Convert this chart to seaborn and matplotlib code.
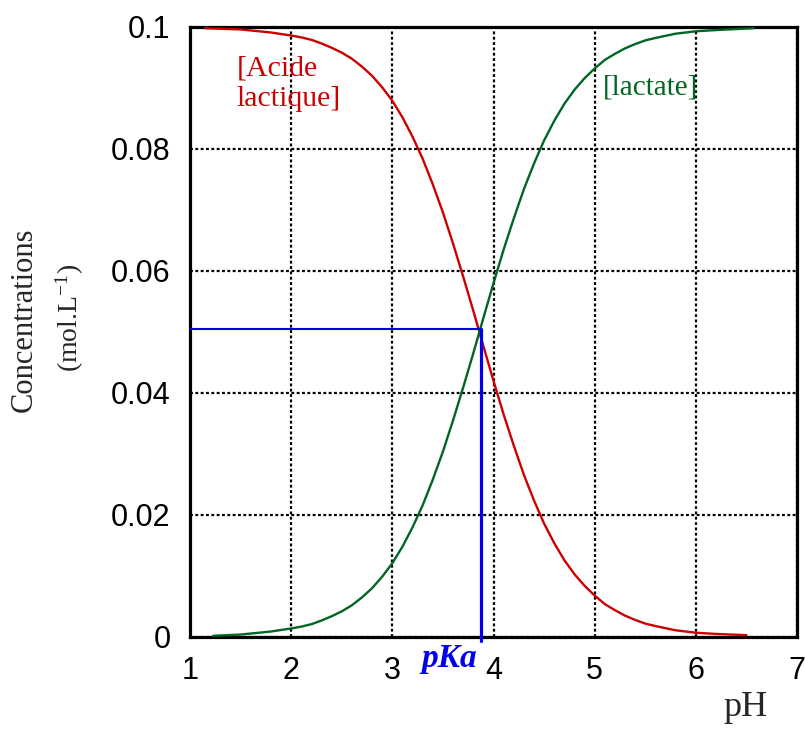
import matplotlib
matplotlib.use("Agg")
import matplotlib.pyplot as plt
import seaborn as sns
import pandas as pd

# Concentrations of lactic acid and lactate versus pH (mol/L)
ph_acide = [1.15, 1.5, 1.8, 2.0, 2.1, 2.2, 2.3, 2.4, 2.5, 2.6, 2.7, 2.8, 2.9,
            3.0, 3.1, 3.2, 3.3, 3.4, 3.5, 3.6, 3.7, 3.8, 3.9, 4.0, 4.1, 4.2,
            4.3, 4.4, 4.5, 4.6, 4.7, 4.8, 4.9, 5.0, 5.1, 5.2, 5.3, 5.4, 5.5,
            5.6, 5.8, 6.0, 6.2, 6.5]
acide = [0.0998, 0.0996, 0.0991, 0.0986, 0.0983, 0.0979, 0.0973, 0.0966,
         0.0958, 0.0948, 0.0935, 0.0920, 0.0901, 0.0879, 0.0852, 0.0820,
         0.0784, 0.0742, 0.0696, 0.0645, 0.0591, 0.0535, 0.0477, 0.0420,
         0.0365, 0.0314, 0.0266, 0.0224, 0.0186, 0.0154, 0.0126, 0.0103,
         0.0084, 0.0068, 0.0054, 0.0044, 0.0035, 0.0028, 0.0022, 0.0018,
         0.0011, 0.0007, 0.0005, 0.0003]
ph_lactate = [1.23, 1.5, 1.8, 2.0, 2.1, 2.2, 2.3, 2.4, 2.5, 2.6, 2.7, 2.8, 2.9,
              3.0, 3.1, 3.2, 3.3, 3.4, 3.5, 3.6, 3.7, 3.8, 3.9, 4.0, 4.1, 4.2,
              4.3, 4.4, 4.5, 4.6, 4.7, 4.8, 4.9, 5.0, 5.1, 5.2, 5.3, 5.4, 5.5,
              5.6, 5.8, 6.0, 6.2, 6.57]
lactate = [0.0002, 0.0004, 0.0009, 0.0014, 0.0017, 0.0021, 0.0027, 0.0034,
           0.0042, 0.0052, 0.0065, 0.0080, 0.0099, 0.0121, 0.0148, 0.0180,
           0.0216, 0.0258, 0.0304, 0.0355, 0.0409, 0.0465, 0.0523, 0.0580,
           0.0635, 0.0686, 0.0734, 0.0776, 0.0814, 0.0846, 0.0874, 0.0897,
           0.0916, 0.0932, 0.0946, 0.0956, 0.0965, 0.0972, 0.0978, 0.0982,
           0.0989, 0.0993, 0.0995, 0.0998]
pka = 3.88
c_demi = 0.0505

x_ticks = [1, 2, 3, 4, 5, 6, 7]
y_ticks = [0, 0.02, 0.04, 0.06, 0.08, 0.1]
y_ticklabels = ["0", "0.02", "0.04", "0.06", "0.08", "0.1"]

RED = "#cc0000"
GREEN = "#006622"
BLUE = "#0000ee"

sns.set_style("white")
plt.rcParams["mathtext.fontset"] = "stix"

fig = plt.figure(figsize=(8.05, 7.29), dpi=100)
ax = fig.add_axes([190 / 805, 1 - 637 / 729, 607 / 805, 610 / 729])

df_a = pd.DataFrame({"pH": ph_acide, "c": acide})
df_l = pd.DataFrame({"pH": ph_lactate, "c": lactate})
sns.lineplot(data=df_a, x="pH", y="c", ax=ax, color=RED, lw=1.7,
             sort=False, estimator=None, zorder=4)
sns.lineplot(data=df_l, x="pH", y="c", ax=ax, color=GREEN, lw=1.7,
             sort=False, estimator=None, zorder=4)

# half-equivalence construction
ax.plot([1, pka], [c_demi, c_demi], color=BLUE, lw=1.5, zorder=5)
ax.plot([pka, pka], [c_demi, -0.0007], color=BLUE, lw=2.3, zorder=5,
        clip_on=False)

ax.set_xlim(1, 7)
ax.set_ylim(0, 0.1)
ax.set_xticks(x_ticks)
ax.set_xticklabels([str(t) for t in x_ticks])
ax.set_yticks(y_ticks)
ax.set_yticklabels(y_ticklabels)
ax.set_xlabel("")
ax.set_ylabel("")

ax.grid(True, color="black", lw=1.6, linestyle=(0, (1.3, 1.1)))
ax.set_axisbelow(True)
for s in ax.spines.values():
    s.set_visible(True)
    s.set_color("black")
    s.set_linewidth(2.3)

ax.tick_params(axis="both", direction="out", length=11, width=2.2,
               color="black", labelsize=22, pad=3, labelcolor="black")
for lab in ax.get_xticklabels() + ax.get_yticklabels():
    lab.set_fontfamily("Liberation Sans")

ax.text(1.46, 0.0953, "[Acide\nlactique]", color=RED, fontsize=21.5,
        family="Liberation Serif", ha="left", va="top", linespacing=1.2)
ax.text(5.08, 0.0922, "[lactate]", color=GREEN, fontsize=21,
        family="Liberation Serif", ha="left", va="top")

fig.text(24 / 805, 1 - 320 / 729, "Concentrations", rotation=90,
         fontsize=22, family="Liberation Serif", ha="center", va="center")
fig.text(70 / 805, 1 - 318 / 729, r"(mol.L$^{\mathregular{-1}}$)", rotation=90,
         fontsize=20, family="Liberation Serif", ha="center", va="center")
fig.text(745 / 805, 1 - 707 / 729, "pH", fontsize=26,
         family="Liberation Serif", ha="center", va="center")
fig.text(449 / 805, 1 - 659 / 729, "pKa", fontsize=24, color=BLUE,
         family="Liberation Serif", style="italic", weight="bold",
         ha="center", va="center")

fig.savefig("out.png", dpi=100, facecolor="white")
